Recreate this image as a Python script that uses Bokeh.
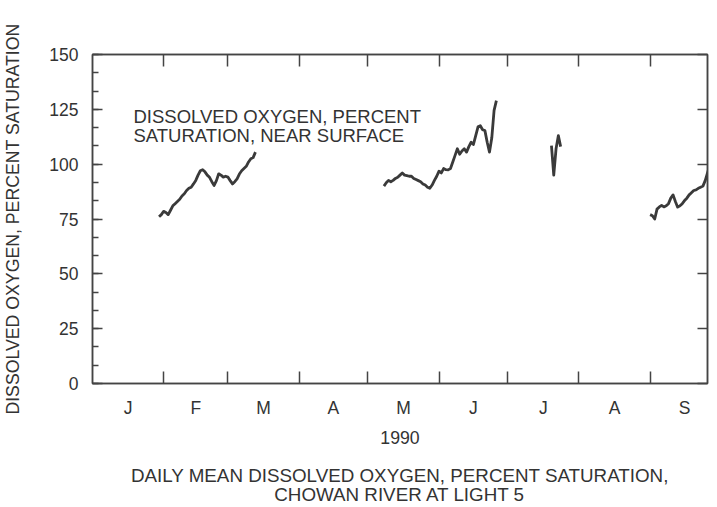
from bokeh.plotting import figure
from bokeh.models import (Range1d, LinearAxis, FixedTicker, SingleIntervalTicker, Label,
                          CustomLabelingPolicy)
from bokeh.embed import file_html
from bokeh.resources import INLINE

# ---- data (day of year, Jan 1 = 0) ----
month_names = ["J", "F", "M", "A", "M", "J", "J", "A", "S"]
month_lengths = [31, 28, 31, 30, 31, 30, 31, 31, 30]
y_ticks_interval = 25

seg1_start = 29
seg1_values = [76, 77, 78.5, 78, 77, 79, 81, 82, 83, 84, 85.5, 86.5, 88, 89, 89.5,
               91, 92.6, 95, 97, 97.5, 96.5, 95, 94, 92, 90.3, 92.5, 95.6, 95, 94.1,
               94.5, 94.1, 92.5, 91, 92, 93.3, 95.5, 97, 98, 99, 101, 102.5, 103, 105.5]

seg2_start = 127
seg2_values = [90, 91.5, 92.6, 92, 92.6, 93.5, 94, 95, 96, 95, 94.8, 94.5, 94.5, 93.5,
               93, 92.5, 92, 91, 90.5, 89.5, 89, 90.5, 92.6, 94.5, 96.8, 96, 98, 97.5,
               97.4, 98, 101, 104, 107, 104.5, 106, 107, 105.5, 108, 110, 109, 113, 117,
               117.5, 115.7, 115.3, 110, 105.5, 112, 124.5, 129]

seg3_start = 200
seg3_values = [108.5, 95, 107, 113, 108]

seg4_start = 243
seg4_values = [77, 76.5, 75, 79.5, 80.5, 81.2, 80.5, 81, 82, 84.5, 86, 83, 80.4, 81,
               82, 83.4, 84.5, 86, 87, 88, 88.3, 89, 89.5, 90, 92.5, 96, 99.4, 101]

series = [(seg1_start, seg1_values), (seg2_start, seg2_values),
          (seg3_start, seg3_values), (seg4_start, seg4_values)]

caption_lines = ["DAILY MEAN DISSOLVED OXYGEN, PERCENT SATURATION,", "CHOWAN RIVER AT LIGHT 5"]
note_lines = ["DISSOLVED OXYGEN, PERCENT", "SATURATION, NEAR SURFACE"]

# month boundaries and centres
month_starts = [0]
for n in month_lengths:
    month_starts.append(month_starts[-1] + n)
month_mids = [(month_starts[i] + month_starts[i + 1]) / 2 for i in range(len(month_lengths))]

FONT = "Liberation Sans"
TXT = "#333333"
INK = "#444444"

p = figure(width=709, height=507, x_range=Range1d(0, 268), y_range=Range1d(0, 150),
           x_axis_type=None, y_axis_type=None,
           output_backend="svg", toolbar_location=None,
           min_border_left=84, min_border_right=2, min_border_top=54, min_border_bottom=124)
p.background_fill_color = "white"
p.border_fill_color = "white"
p.outline_line_color = INK
p.outline_line_width = 1.5

no_labels = CustomLabelingPolicy(code="""
const all = [...indices]
for (const i of all) indices.unset(i)
return indices
""")


def style(ax, size="17.5px"):
    ax.axis_line_color = INK
    ax.axis_line_width = 1.5
    ax.major_tick_line_color = INK
    ax.minor_tick_line_color = INK
    ax.major_tick_line_width = 1.5
    ax.minor_tick_line_width = 1.5
    ax.major_label_text_font = FONT
    ax.major_label_text_font_size = size
    ax.major_label_text_color = TXT
    ax.axis_label_text_font = FONT
    ax.axis_label_text_font_size = "17.7px"
    ax.axis_label_text_font_style = "normal"
    ax.axis_label_text_color = TXT


# left axis
yax = LinearAxis(ticker=SingleIntervalTicker(interval=y_ticks_interval, num_minor_ticks=3),
                 axis_label="DISSOLVED OXYGEN, PERCENT SATURATION")
style(yax)
yax.major_tick_in = 10
yax.major_tick_out = 0
yax.minor_tick_in = 6
yax.minor_tick_out = 0
yax.major_label_standoff = 14
yax.axis_label_standoff = 23
p.add_layout(yax, "left")

# right axis (ticks only)
rax = LinearAxis(ticker=SingleIntervalTicker(interval=y_ticks_interval, num_minor_ticks=0),
                 major_label_policy=no_labels)
style(rax, "0px")
rax.major_tick_in = 10
rax.major_tick_out = 0
rax.minor_tick_in = 0
rax.minor_tick_out = 0
rax.major_label_standoff = 0
p.add_layout(rax, "right")

# bottom axis: month letters centred, boundary ticks as minor ticks
xax = LinearAxis(ticker=FixedTicker(ticks=month_mids, minor_ticks=month_starts[1:]),
                 axis_label="1990")
style(xax)
xax.major_label_overrides = {m: name for m, name in zip(month_mids, month_names)}
xax.major_tick_in = 0
xax.major_tick_out = 0
xax.minor_tick_in = 12
xax.minor_tick_out = 0
xax.major_label_standoff = 14
xax.axis_label_standoff = 10
p.add_layout(xax, "below")

# caption lines below, as centred labels of tick-less axes
for txt, so, lh in zip(caption_lines, [18, -5], [1.2, 0.85]):
    cax = LinearAxis(ticker=FixedTicker(ticks=[]), axis_label=txt)
    style(cax)
    cax.axis_line_color = None
    cax.major_tick_in = 0
    cax.major_tick_out = 0
    cax.minor_tick_in = 0
    cax.minor_tick_out = 0
    cax.major_label_standoff = 0
    cax.axis_label_standoff = so
    cax.axis_label_text_font_size = "18.8px"
    cax.axis_label_text_line_height = lh
    p.add_layout(cax, "below")

# top axis (ticks only)
tax = LinearAxis(ticker=FixedTicker(ticks=month_starts[1:]), major_label_policy=no_labels)
style(tax, "0px")
tax.major_tick_in = 12
tax.major_tick_out = 0
tax.major_label_standoff = 0
p.add_layout(tax, "above")

for start, vals in series:
    days = [start + i for i in range(len(vals))]
    p.line(days, vals, line_color="#3a3a3a", line_width=2.8, line_join="round")

# in-plot annotation
for txt, yy in zip(note_lines, [267, 248]):
    p.add_layout(Label(x=41, y=yy, x_units="screen", y_units="screen", text=txt,
                       text_font=FONT, text_font_size="18.5px", text_color=TXT,
                       text_baseline="middle", text_align="left"))

open("out.html", "w").write(file_html(p, INLINE))
